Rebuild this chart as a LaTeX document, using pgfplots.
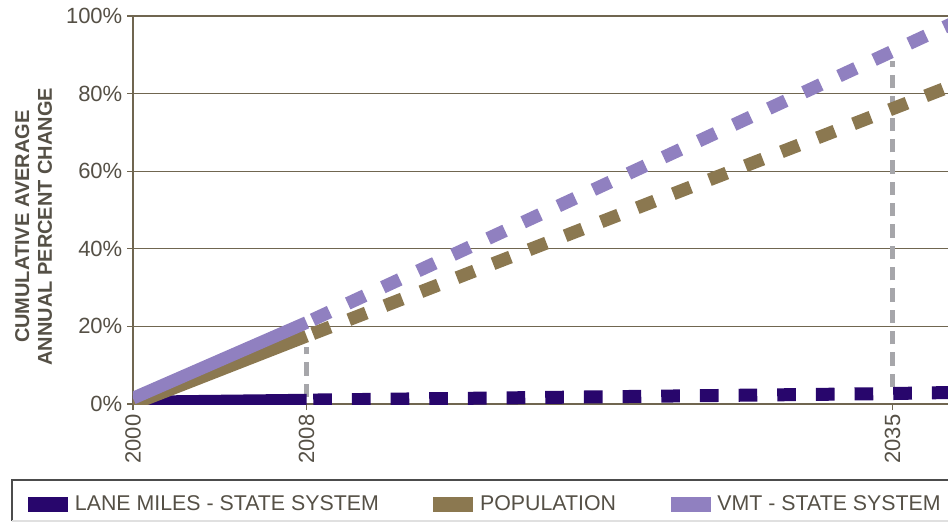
\documentclass[border=0pt]{standalone}
\usepackage{fontspec}
\setmainfont{Liberation Sans}
\setsansfont{Liberation Sans}
\usepackage{pgfplots}
\pgfplotsset{compat=1.18}
\definecolor{lanec}{RGB}{40,6,108}
\definecolor{popc}{RGB}{139,120,80}
\definecolor{vmtc}{RGB}{144,128,192}
\definecolor{vgray}{RGB}{166,166,170}
\definecolor{axc}{RGB}{112,102,80}
\definecolor{txtc}{RGB}{85,80,70}
\begin{document}
\begin{tikzpicture}
\useasboundingbox (-99.75pt,-88.5pt) rectangle (611.25pt,303pt);
\begin{axis}[
  at={(0,0)}, anchor=south west,
  scale only axis,
  width=611.25pt, height=291pt,
  xmin=2000, xmax=2037.56,
  ymin=0, ymax=100,
  axis x line*=bottom, axis y line*=left,
  axis line style={draw=axc, line width=0.9pt},
  ymajorgrids, grid style={draw=axc, line width=0.9pt},
  tick style={draw=axc, line width=0.9pt},
  tick align=outside, major tick length=4.5pt,
  xtick={2000,2008,2035},
  ytick={0,20,40,60,80,100},
  /pgf/number format/assume math mode=true,
  xticklabel={\pgfmathprintnumber[1000 sep={}]{\tick}},
  yticklabel={\pgfmathprintnumber{\tick}\%},
  xticklabel style={rotate=90, anchor=east, font=\fontsize{16.5}{18}\selectfont, text=txtc},
  yticklabel style={font=\fontsize{16.5}{18}\selectfont, text=txtc},
  ylabel={\begin{tabular}{c}CUMULATIVE AVERAGE\\ANNUAL PERCENT CHANGE\end{tabular}},
  ylabel style={at={(axis description cs:-0.119,0.457)}, anchor=center, rotate=0,
    font=\fontsize{15}{17}\selectfont\bfseries, text=txtc, inner sep=0pt},
  legend columns=3,
  legend style={at={(axis description cs:-0.1288,-0.2590)}, anchor=west,
    draw=none, fill=none, inner sep=0pt,
    font=\fontsize{16}{18}\selectfont, text=txtc,
    /tikz/every odd column/.append style={column sep=3pt},
    /tikz/every even column/.append style={column sep=39pt}},
  legend image code/.code={\fill[draw=none] (0pt,-5.6pt) rectangle (30pt,5.6pt);},
  line join=miter,
]
% vertical reference lines
\addplot[forget plot, draw=vgray, line width=4.2pt, dash pattern=on 10pt off 6pt]
  coordinates {(2008,1.8) (2008,14.7)};
\addplot[forget plot, draw=vgray, line width=4.2pt, dash pattern=on 10pt off 6pt]
  coordinates {(2035,4.4) (2035,88.4)};
% Lane miles
\addplot[color=lanec, line width=9.5pt] coordinates {(2000,0.5) (2008,1.0)};
\addlegendentry{LANE MILES - STATE SYSTEM}
\addplot[forget plot, color=lanec, line width=9.75pt, dash pattern=on 14pt off 15pt, dash phase=24pt]
  coordinates {(2008,1.0) (2035,2.7) (2038,3.0)};
% Population
\addplot[color=popc, line width=9.5pt] coordinates {(2000,0) (2008,17.5)};
\addlegendentry{POPULATION}
\addplot[forget plot, color=popc, line width=9.75pt, dash pattern=on 14pt off 15pt, dash phase=24pt]
  coordinates {(2008,17.5) (2035,76.1) (2038,82.6)};
% VMT
\addplot[color=vmtc, line width=9.5pt] coordinates {(2000,1.5) (2008,21)};
\addlegendentry{VMT - STATE SYSTEM}
\addplot[forget plot, color=vmtc, line width=9.75pt, dash pattern=on 14pt off 15pt, dash phase=24pt]
  coordinates {(2008,21) (2035,90.9) (2038,98.7)};
\end{axis}
\draw[draw=black!70, line width=1pt] (-90.75pt,-87.75pt) -- (-90.75pt,-57pt) -- (640pt,-57pt);
\draw[draw=black!12, line width=0.8pt] (-90.75pt,-87.75pt) -- (640pt,-87.75pt);
\end{tikzpicture}
\end{document}
